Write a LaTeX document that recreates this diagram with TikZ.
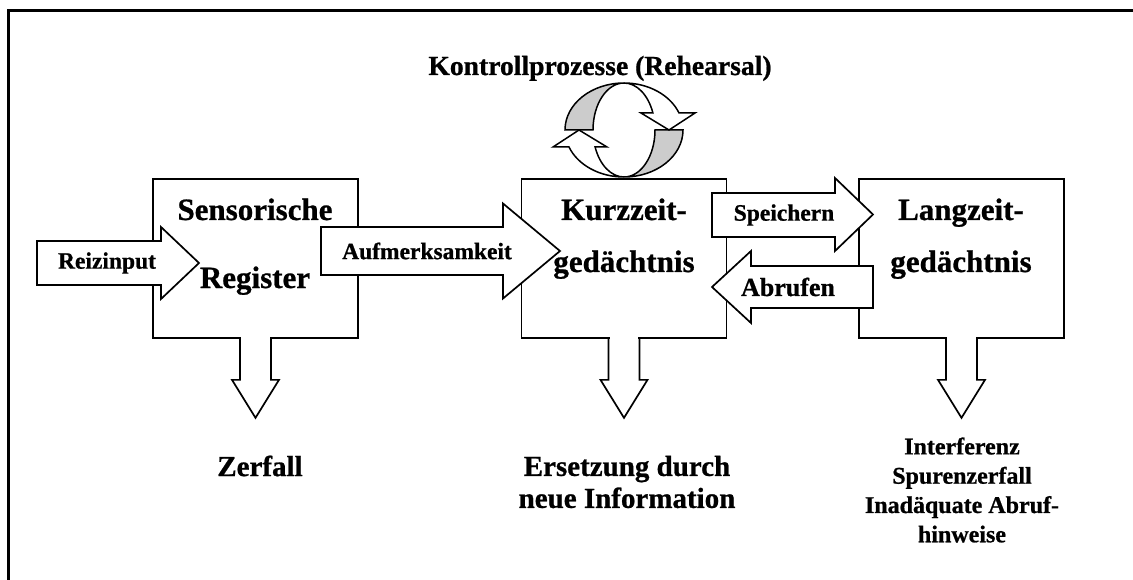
\documentclass[tikz,border=0pt]{standalone}
\usepackage{fontspec}
\setmainfont{Liberation Serif}[BoldFeatures={FakeBold=0.8}]
\usetikzlibrary{positioning}

\tikzset{
  store/.style={draw, line width=1.7pt, minimum width=205pt, minimum height=159pt, inner sep=0pt},
  barrow/.style={draw, fill=white, line width=1.7pt, line join=miter},
  big/.style={font=\fontsize{31}{37}\selectfont\bfseries, anchor=base, inner sep=0pt},
  mid/.style={font=\fontsize{29}{32}\selectfont\bfseries, align=center, inner sep=0pt},
  small/.style={font=\fontsize{23.5}{29}\selectfont\bfseries, inner sep=0pt},
  downarrow/.pic={
    \fill[white] (-14.4,-1.5) rectangle (14.4,41);
    \draw[line width=1.7pt, line join=miter] (-15.5,0) -- (-15.5,41) -- (-23.5,41) -- (0,79) -- (23.5,41) -- (15.5,41) -- (15.5,0);
  }
}

\begin{document}
\begin{tikzpicture}[x=1pt, y=-1pt]
  \useasboundingbox (0,0) rectangle (1133,580);
  \draw[line width=2.6pt] (8.5,600) -- (8.5,10.5) -- (1150,10.5);

  % the three stores
  \node[store] (sr) at (255.5,258.5) {};
  \node[store] (kz) at (624,258.5) {};
  \node[store] (lz) at (961.5,258.5) {};
  \pic at (sr.south) {downarrow};
  \pic at (kz.south) {downarrow};
  \pic at (lz.south) {downarrow};

  % rehearsal loop
  \begin{scope}[shift={(624,130)}, y=1pt, line width=1.5pt]
    \foreach \r in {0,180}{
      \begin{scope}[rotate=\r]
        \filldraw[fill=black!20] (-59,0) arc[start angle=180, end angle=90, x radius=59, y radius=47]
          arc[start angle=90, end angle=180, x radius=31, y radius=47] -- cycle;
        \filldraw[fill=white] (-71,-17) -- (-45,0) -- (-17,-17) -- (-28.9,-17)
          arc[start angle=201.2, end angle=270, x radius=31, y radius=47]
          arc[start angle=270, end angle=201.2, x radius=59, y radius=47] -- cycle;
      \end{scope}
    }
  \end{scope}

  % block arrows
  \draw[barrow] (37,241) -- (161,241) -- (161,227) -- (199,263) -- (161,299) -- (161,285) -- (37,285) -- cycle;
  \draw[barrow] (321,227) -- (503,227) -- (503,203.5) -- (560,251) -- (503,298.5) -- (503,275) -- (321,275) -- cycle;
  \draw[barrow] (712,193) -- (835,193) -- (835,178) -- (873,214.5) -- (835,251) -- (835,237) -- (712,237) -- cycle;
  \draw[barrow] (873,266) -- (751,266) -- (751,251) -- (712,287) -- (751,323) -- (751,308) -- (873,308) -- cycle;

  % labels
  \node[small] (reiz) at (107,263) {Reizinput};
  \node[small] (aufm) at (427,251) {Aufmerksamkeit};
  \node[small] (speich) at (784,215) {Speichern};
  \node[small, font=\fontsize{26}{29}\selectfont\bfseries] (abruf) at (788,287) {Abrufen};

  \node[big] (sr1) at (255,220) {Sensorische};
  \node[big] (sr2) at (255,288) {Register};
  \node[big] (kz1) at (624,220) {Kurzzeit-};
  \node[big] (kz2) at (624,272) {gedächtnis};
  \node[big] (lz1) at (961,220) {Langzeit-};
  \node[big] (lz2) at (961,272) {gedächtnis};
  \node[big, font=\fontsize{27.6}{33}\selectfont\bfseries] (kontr) at (600,75) {Kontrollprozesse (Rehearsal)};

  \node[mid] (zerf) at (260,466) {Zerfall};
  \node[mid] (ersetz) at (627,482) {Ersetzung durch\\neue Information};
  \node[small, align=center, font=\fontsize{24}{29.3}\selectfont\bfseries] (interf) at (962,490) {Interferenz\\Spurenzerfall\\Inadäquate Abruf-\\hinweise};
\end{tikzpicture}
\end{document}
